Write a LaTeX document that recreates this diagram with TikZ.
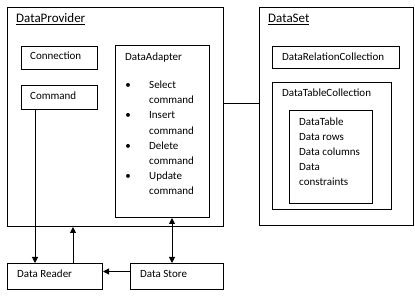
\documentclass[tikz,border=0pt]{standalone}
\usepackage{fontspec}
\setmainfont{Carlito}
\usetikzlibrary{arrows.meta}

\tikzset{
  box/.style={draw, line width=1pt, inner sep=0pt, anchor=north west},
  lbl/.style={inner sep=0pt, anchor=base west, font=\fontsize{11}{13}\selectfont},
  title/.style={inner sep=0pt, anchor=base west, font=\fontsize{13}{15}\selectfont},
  link/.style={line width=1pt, ->},
}

\begin{document}
\begin{tikzpicture}[x=1pt, y=-1pt, >={Triangle[length=6pt,width=6pt]}]
  \useasboundingbox[fill=white] (0,0) rectangle (415,296);

  % DataProvider
  \node[box, minimum width=216pt, minimum height=219pt] (provider) at (7,7) {};
  \node[title] (providertitle) at (16,23) {\underline{DataProvider}};
  \node[box, minimum width=76pt, minimum height=23pt] (connection) at (21,46) {};
  \node[lbl] (connectiontext) at (30,60) {Connection};
  \node[box, minimum width=76pt, minimum height=24pt] (command) at (21,85) {};
  \node[lbl] (commandtext) at (30,100) {Command};

  % DataAdapter with its commands
  \node[box, minimum width=94pt, minimum height=172pt] (adapter) at (115,45) {};
  \node[lbl] (adaptertext) at (125,61) {DataAdapter};
  \foreach \i/\word in {0/Select, 1/Insert, 2/Delete, 3/Update} {
    \pgfmathsetmacro{\ybase}{88.5+30.4*\i}
    \node[lbl, anchor=base] (bullet\i) at (128,\ybase) {\textbullet};
    \node[lbl] (item\i) at (149,\ybase) {\word};
    \node[lbl] (cmd\i) at (149,\ybase+15.2) {command};
  }

  % DataSet
  \node[box, minimum width=154pt, minimum height=218pt] (dataset) at (259,7) {};
  \node[title] (datasettitle) at (268,23) {\underline{DataSet}};
  \node[box, minimum width=127pt, minimum height=22pt] (relations) at (272,46) {};
  \node[lbl] (relationstext) at (282,61) {DataRelationCollection};
  \node[box, minimum width=119pt, minimum height=127pt] (tables) at (272,82) {};
  \node[lbl] (tablestext) at (282,97) {DataTableCollection};
  \node[box, minimum width=83pt, minimum height=93pt] (datatable) at (289,110) {};
  \foreach \i/\entry in {0/DataTable, 1/Data rows, 2/Data columns, 3/Data, 4/constraints} {
    \node[lbl] (row\i) at (299,125.3+15*\i) {\entry};
  }

  % Reader and store
  \node[box, minimum width=95pt, minimum height=26pt] (reader) at (7,263) {};
  \node[lbl] (readertext) at (17,278) {Data Reader};
  \node[box, minimum width=93pt, minimum height=26pt] (store) at (130,263) {};
  \node[lbl] (storetext) at (140,278) {Data Store};

  % Connectors
  \draw[line width=1pt] (provider.east |- 0,104) -- (dataset.west |- 0,104);
  \draw[link] (command.south -| 35,0) -- (reader.north -| 35,0);
  \draw[link] (reader.north -| 73,0) -- (provider.south -| 73,0);
  \draw[link, <->] (adapter.south -| 172,0) -- (store.north -| 172,0);
  \draw[link] ([yshift=5pt]store.west) -- ([yshift=5pt]reader.east);
\end{tikzpicture}
\end{document}
